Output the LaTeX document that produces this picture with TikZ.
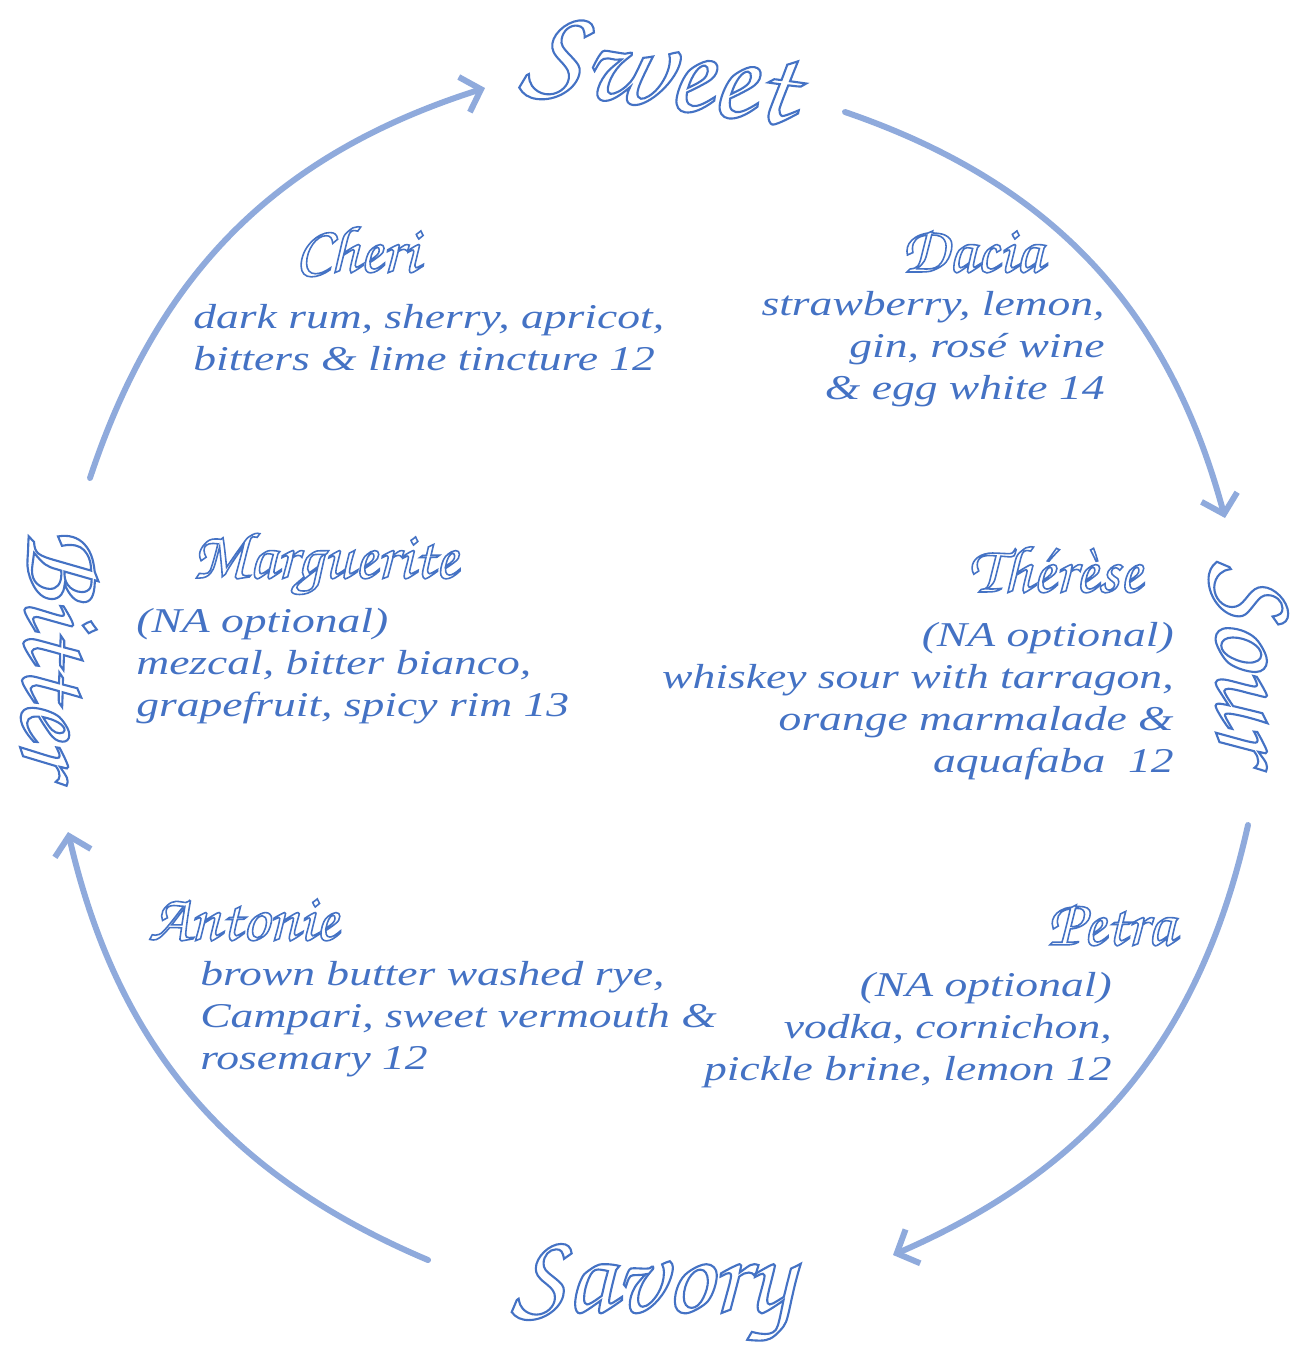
\documentclass[tikz,border=0pt]{standalone}
\usepackage[T1]{fontenc}
\usepackage{fontspec}
\setmainfont{Liberation Serif}
\usetikzlibrary{arrows.meta}
\definecolor{inkblue}{HTML}{4472C4}
\definecolor{arcblue}{HTML}{8FAADC}
\newfontfamily\menufont{Liberation Serif}[FakeStretch=1.31]
\newcommand\chancery{\fontencoding{T1}\fontfamily{pzc}\fontseries{mb}\fontshape{it}\selectfont}
% hollow letters: stroke only
\newcommand\outl[2][0.9]{\special{pdf:literal direct 1 Tr #1 w}#2\special{pdf:literal direct 0 Tr}}
\tikzset{%
  flavour/.style={font=\chancery\fontsize{#1}{#1}\selectfont, text=inkblue, inner sep=0pt},
  flavour/.default=72,
  drink/.style={font=\chancery\fontsize{38}{38}\selectfont, text=inkblue, inner sep=0pt, anchor=base},
  recipe/.style={font=\menufont\itshape\fontsize{19.8}{23.9}\selectfont, text=inkblue, inner sep=0pt},
  flow/.style={draw=arcblue, line width=3.4pt, line cap=round, line join=round, -{Straight Barb[length=10pt, width=21pt]}}
}
\begin{document}
\begin{tikzpicture}[x=0.02cm, y=-0.02cm]
  \useasboundingbox (0,0) rectangle (1311,1353);
  % flavours round the wheel
  \node[flavour=73, rotate=-8] (sweet) at (660,72) {\outl[1.2]{Sweet}};
  \node[flavour=69, rotate=-90] (sour) at (1250,660) {\outl[1.2]{Sour}};
  \node[flavour=66] (savory) at (652,1294) {\outl[1.2]{Savory}};
  \node[flavour=66, rotate=-92] (bitter) at (62,650) {\outl[1.2]{Bitter}};
  % arrows
  \coordinate (fromBitter) at (90,478);
  \coordinate (toSweet) at (485,88);
  \coordinate (fromSweet) at (845,112);
  \coordinate (toSour) at (1225,518);
  \coordinate (fromSour) at (1248,825);
  \coordinate (toSavory) at (893,1255);
  \coordinate (fromSavory) at (428,1260);
  \coordinate (toBitter) at (68,832);
  \draw[flow] (fromBitter) to[bend left=27] (toSweet);
  \draw[flow] (fromSweet) to[bend left=28] (toSour);
  \draw[flow] (fromSour) to[bend left=27] (toSavory);
  \draw[flow] (fromSavory) to[bend left=27] (toBitter);
  % drinks
  \node[drink] (cheri) at (357,272) {\outl{Cheri}};
  \node[recipe, anchor=north west, align=left] (cheriTxt) at (193,304)
    {dark rum, sherry, apricot,\\bitters \& lime tincture 12};
  \node[drink] (dacia) at (972,272) {\outl{Dacia}};
  \node[recipe, anchor=north east, align=right] (daciaTxt) at (1105,291)
    {strawberry, lemon,\\gin, rosé wine\\\& egg white 14};
  \node[drink] (marguerite) at (325,578) {\outl{Marguerite}};
  \node[recipe, anchor=north west, align=left] (margueriteTxt) at (136,608)
    {(NA optional)\\mezcal, bitter bianco,\\grapefruit, spicy rim 13};
  \node[drink] (therese) at (1055,592) {\outl{Th\'er\`ese}};
  \node[recipe, anchor=north east, align=right] (thereseTxt) at (1174,622)
    {(NA optional)\\whiskey sour with tarragon,\\orange marmalade \&\\aquafaba~~12};
  \node[drink] (antonie) at (243,940) {\outl{Antonie}};
  \node[recipe, anchor=north west, align=left] (antonieTxt) at (200,961)
    {brown butter washed rye,\\Campari, sweet vermouth \&\\rosemary 12};
  \node[drink] (petra) at (1111,945) {\outl{Petra}};
  \node[recipe, anchor=north east, align=right] (petraTxt) at (1112,972)
    {(NA optional)\\vodka, cornichon,\\pickle brine, lemon 12};
\end{tikzpicture}
\end{document}
